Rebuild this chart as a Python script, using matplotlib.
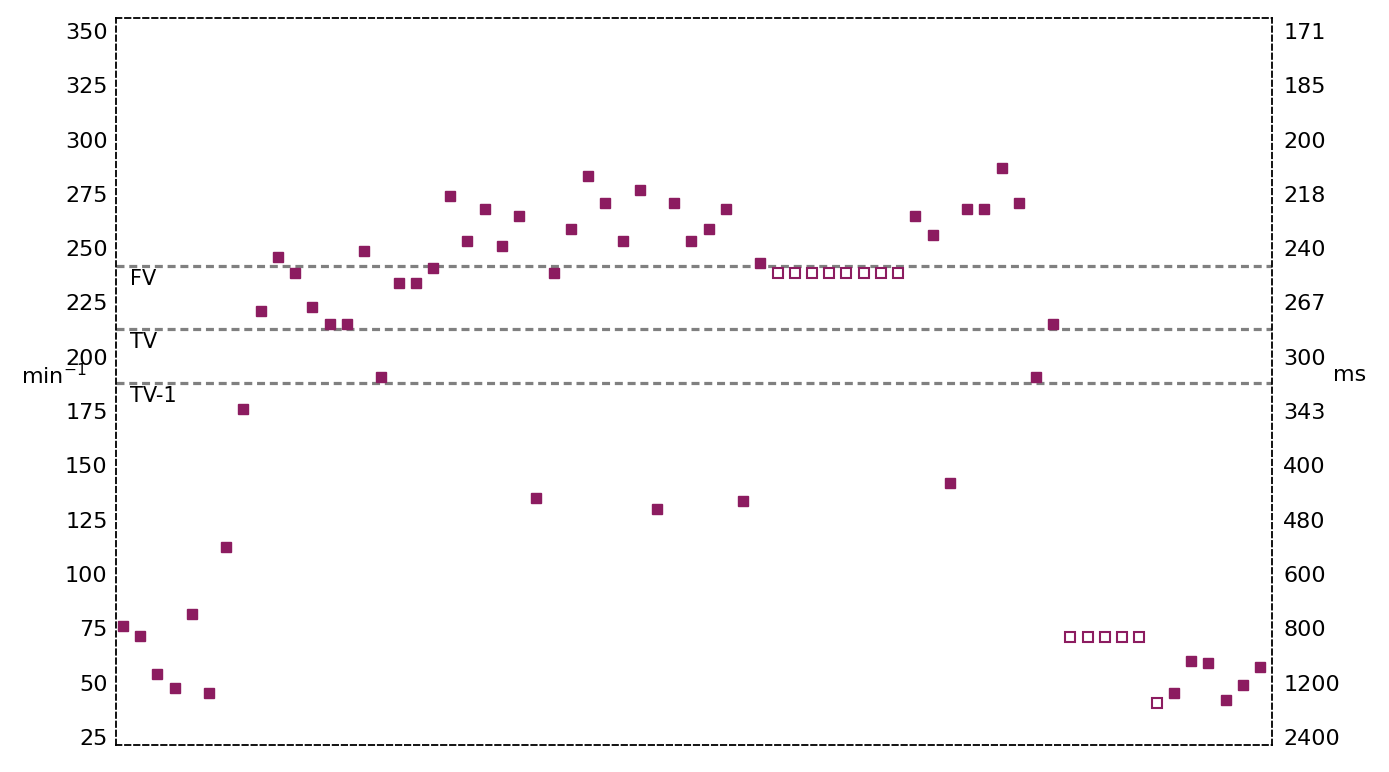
import numpy as np
import matplotlib
matplotlib.use('Agg')
from matplotlib import pyplot as plt

# heart rate per beat (min^-1), filled = detected, open = paced/estimated
rate = [76, 71.5, 54, 47.5, 81.5, 45, 112.5, 176, 221, 246,
        238.5, 223, 215, 215, 248.5, 190.5, 234, 234, 241, 274,
        253.5, 268, 251, 265, 135, 238.5, 259, 283, 271, 253.5,
        277, 130, 271, 253.5, 259, 268, 133.5, 243, 238.5, 238.5,
        238.5, 238.5, 238.5, 238.5, 238.5, 238.5, 265, 256, 142, 268,
        268, 287, 271, 190.5, 215, 71, 71, 71, 71, 71,
        40.5, 45, 60, 59, 42, 49, 57]
hollow = list(range(38, 46)) + list(range(55, 61))

zones = ['FV', 'TV', 'TV-1']
zone_rate = [242, 213, 188]

yticks = [350, 325, 300, 275, 250, 225, 200, 175, 150, 125, 100, 75, 50, 25]

col = '#8c1c60'

fig = plt.figure(figsize=(13.89, 7.72), dpi=100)
ax = fig.add_axes([0.0835, 0.035, 0.8323, 0.9418])

idx = np.arange(len(rate))
rate = np.array(rate)
is_open = np.isin(idx, hollow)

ax.plot(idx[~is_open], rate[~is_open], 's', color=col, markersize=7, linestyle='none')
ax.plot(idx[is_open], rate[is_open], 's', markerfacecolor='white', markeredgecolor=col,
        markeredgewidth=1.5, markersize=6.5, linestyle='none')

for name, r in zip(zones, zone_rate):
    ax.axhline(r, color='#808080', linestyle=(0, (2.5, 1.5)), linewidth=2.3, zorder=0)
    ax.text(0.4, r - 1.5, name, ha='left', va='top', fontsize=15)

ax.set_xlim(-0.4, 66.7)
ax.set_ylim(21.3, 356)
ax.set_xticks([])
ax.set_yticks(yticks)
ax.tick_params(axis='y', length=0, labelsize=16, pad=6)

for s in ax.spines.values():
    s.set_linestyle((0, (3, 2)))
    s.set_linewidth(1.3)

ax2 = ax.twinx()
ax2.set_ylim(ax.get_ylim())
ax2.set_yticks(yticks)
ax2.set_yticklabels([str(int(round(60000 / v))) for v in yticks])
ax2.tick_params(axis='y', length=0, labelsize=16, pad=8)
for s in ax2.spines.values():
    s.set_visible(False)

# axis units, horizontal beside the tick labels
fig.text(54 / 1389, 1 - 376 / 772, 'min$^{-1}$', ha='center', va='center', fontsize=16)
fig.text(1350 / 1389, 1 - 375 / 772, 'ms', ha='center', va='center', fontsize=16)

fig.savefig('out.png', dpi=100)
